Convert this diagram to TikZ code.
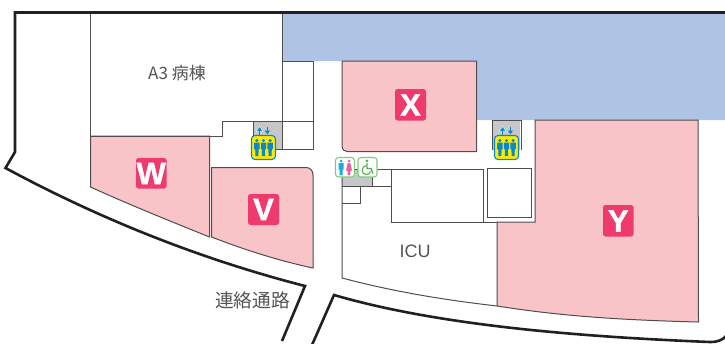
\documentclass[tikz,border=0pt]{standalone}
\usepackage{fontspec}
\setmainfont{Liberation Sans}
\newfontfamily\cjk{Noto Sans CJK JP}
\newfontfamily\badgefont[BoldFeatures={FakeBold=1.2}]{Liberation Sans}
\definecolor{wallc}{HTML}{231F20}
\definecolor{linec}{HTML}{4F4D4D}
\definecolor{textc}{HTML}{555353}
\definecolor{bluec}{HTML}{AFC4E4}
\definecolor{pinkc}{HTML}{F9C4C7}
\definecolor{badgec}{HTML}{EF3A6E}
\definecolor{greyc}{HTML}{C6C7C9}
\definecolor{iconb}{HTML}{0A88C9}
\definecolor{icony}{HTML}{FFEB00}
\definecolor{icong}{HTML}{7FCB7B}
\definecolor{cyanc}{HTML}{19ABE2}
\definecolor{magc}{HTML}{EE5FA0}
\definecolor{wheelc}{HTML}{4FB14E}
\tikzset{
  wall/.style={draw=wallc,line width=2.6pt,line join=miter},
  room/.style={draw=linec,line width=1pt,line join=miter},
  badge/.style={fill=badgec,rounded corners=2.5pt,draw=none},
  badgetext/.style={text=white,font=\badgefont\fontsize{31}{31}\selectfont\bfseries,inner sep=0pt},
  lbl/.style={text=textc,inner sep=0pt},
  person/.pic={
    \fill[iconb] (0,-7) circle (1.7);
    \fill[iconb] (-2.7,-5) -- (2.7,-5) -- (2.7,1.5) -- (1.7,1.5) -- (1.5,8.5) -- (-1.5,8.5) -- (-1.7,1.5) -- (-2.7,1.5) -- cycle;
  },
  elev/.pic={
    \draw[draw=iconb,fill=icony,line width=1.1pt,rounded corners=3.5pt] (-12,-12) rectangle (12,12);
    \pic at (-6.6,0) {person};
    \pic at (0,0) {person};
    \pic at (6.6,0) {person};
    \draw[white,line width=.9pt,fill=iconb] (-3.9,-20.5) -- (-0.9,-16.5) -- (-6.9,-16.5) -- cycle;
    \fill[iconb] (-3.9,-20.5) -- (-1.2,-16.7) -- (-6.6,-16.7) -- cycle;
    \fill[iconb] (-4.6,-17) rectangle (-3.2,-13);
    \fill[iconb] (3.9,-13.2) -- (1.2,-17) -- (6.6,-17) -- cycle;
    \fill[iconb] (3.2,-20.5) rectangle (4.6,-16.5);
  }
}
\begin{document}
\begin{tikzpicture}[x=1pt,y=-1pt]
\useasboundingbox (0,0) rectangle (725,343);
% blue
\fill[bluec] (283,14) -- (725,14) -- (725,120) -- (476,120) -- (476,61) -- (283,61) -- cycle;
% pink rooms
\path[fill=pinkc,room] (90.5,136) -- (209.5,136) -- (209.5,237)
  .. controls (170,221) and (130,205) .. (90.5,187) -- cycle;
\path[fill=pinkc,room] (211.5,167.5) -- (306,167.5) .. controls (310,167.5) and (313,170.5) .. (313,175)
  -- (313,268) .. controls (280,261) and (245,250) .. (211.5,237) -- cycle;
\path[fill=pinkc,room] (342,61) -- (476.5,61) -- (476.5,151.5) -- (347,151.5)
  .. controls (344,151.5) and (342,149.5) .. (342,146.5) -- cycle;
\path[fill=pinkc,room] (535,120) -- (698,120) -- (698.5,322)
  .. controls (620,320) and (560,316) .. (497,306) -- (497,222) -- (535,222) -- cycle;
% A3
\draw[room] (90.5,13) -- (90.5,136) -- (222.5,136) -- (222.5,121) -- (282.5,121) -- (282.5,13);
\draw[room] (283,61) -- (313,61) -- (313,149.5) -- (283,149.5);
\draw[room] (283,121) -- (313,121);
% lift shafts
\path[fill=greyc,room] (253.5,149.5) -- (253.5,121) -- (282.5,121) -- (282.5,149.5) -- cycle;
\fill[greyc] (492.6,120.6) rectangle (520.4,150);
\draw[room] (492,150) -- (492,120) -- (521,120) -- (521,150);
% ICU block
\path[fill=greyc] (342,169) rectangle (372,186);
\draw[room] (342,169) -- (342,278) .. controls (395,292) and (445,300) .. (497,306);
\draw[room] (342,169) -- (391,169) (372,169) -- (372,186) (342,186) -- (391,186);
\draw[room] (342,186) -- (360.5,186) -- (360.5,203) -- (342,203);
\draw[room] (391,169) rectangle (483.5,222);
\draw[room] (483.5,222) -- (497,222);
\draw[room] (487.5,168.5) rectangle (531,217.5);
% walls
\draw[wall] (15,12.5) -- (725,12.5);
\draw[wall] (15,11.2) -- (15,152) -- (5.5,168)
  .. controls (100,219) and (200,259) .. (305,286) -- (282,341);
\draw[wall] (312,345) -- (334,295)
  .. controls (430,323) and (560,336) .. (710,342) .. controls (718,342) and (723,340) .. (727,335);
% badges
\fill[badge] (136,158) rectangle (166.5,188.5);
\node[badgetext] (w) at (151.2,173.5) {W};
\fill[badge] (248,194) rectangle (279,225);
\node[badgetext] (v) at (263.5,209.5) {V};
\fill[badge] (395,89) rectangle (426,120.5);
\node[badgetext] (x) at (410.5,105) {X};
\fill[badge] (603,205) rectangle (633.5,236.5);
\node[badgetext] (y) at (618.3,221) {Y};
% lift icons
\pic at (263.5,147.5) {elev};
\pic at (506.5,147.5) {elev};
% WC icons
\draw[draw=icong,fill=white,line width=1.1pt,rounded corners=3pt] (335.5,157.5) rectangle (354.5,177);
\fill[cyanc] (341,161) circle (1.5);
\fill[cyanc] (338.5,163) rectangle (343.5,169.5) (339.5,169.5) rectangle (342.5,175);
\fill[magc] (349,161) circle (1.5);
\fill[magc] (347.7,163) -- (350.3,163) -- (352,170.5) -- (350.4,170.5) -- (350.4,175) -- (347.6,175) -- (347.6,170.5) -- (346,170.5) -- cycle;
\draw[draw=icong,fill=white,line width=1.1pt,rounded corners=3pt] (358,157.5) rectangle (377,177);
\fill[wheelc] (367,160.8) circle (1.5);
\draw[wheelc,line width=1.4pt] (367,163) -- (367,168.5) -- (371,168.5) -- (373,173.5);
\draw[wheelc,line width=1.1pt] (366,165.5) .. controls (361,166.5) and (361,174.5) .. (366,174.5) .. controls (368.5,174.5) and (370,173.5) .. (370.5,171.5);
% texts
\node[lbl,font=\cjk\fontsize{17}{17}\selectfont] (a3) at (177,73) {A3 病棟};
\node[lbl,font=\fontsize{18}{18}\selectfont] (icu) at (415,251) {ICU};
\node[lbl,font=\cjk\fontsize{18.7}{18.7}\selectfont] (corridor) at (252.5,300) {連絡通路};
\end{tikzpicture}
\end{document}
